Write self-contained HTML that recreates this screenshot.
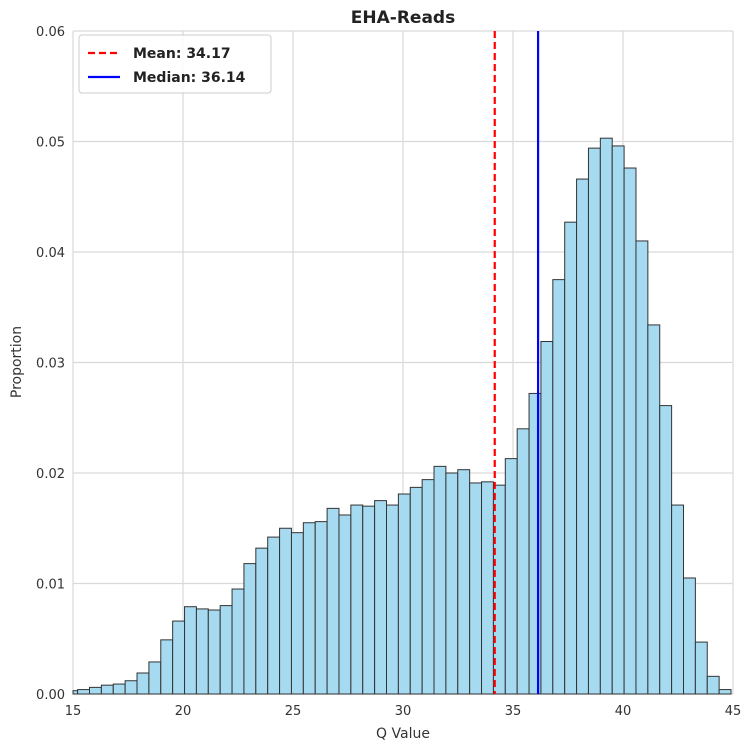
<!DOCTYPE html>
<html><head><meta charset="utf-8"><style>
body{margin:0;background:#fff;font-family:"Liberation Sans","DejaVu Sans",sans-serif;}
svg text{font-family:"DejaVu Sans","Liberation Sans",sans-serif;}
</style></head><body>
<svg id="chart" width="750" height="749" xmlns="http://www.w3.org/2000/svg">
<text x="403" y="23" text-anchor="middle" font-size="17" font-weight="bold" fill="#222">EHA-Reads</text>
<g id="grid"></g><g id="bars"></g><g id="lines"></g><g id="axes"></g>
<text x="403" y="738" text-anchor="middle" font-size="14" fill="#333">Q Value</text>
<text transform="translate(21,362) rotate(-90)" text-anchor="middle" font-size="14" fill="#333">Proportion</text>
<g>
<rect x="79" y="35" width="192" height="58" rx="3" fill="#fff" fill-opacity="0.85" stroke="#ccc"/>
<line x1="88" y1="53" x2="120" y2="53" stroke="#ff0000" stroke-width="2.2" stroke-dasharray="7,4"/>
<text x="133" y="58" font-size="14" font-weight="bold" fill="#222">Mean: 34.17</text>
<line x1="88" y1="77" x2="120" y2="77" stroke="#0000ff" stroke-width="2.2"/>
<text x="133" y="82" font-size="14" font-weight="bold" fill="#222">Median: 36.14</text>
</g>
</svg>
<script>
const binStart = 14.67;
const binWidth = 0.54;
const proportions = [0.0003,0.0004,0.0006,0.0008,0.0009,0.0012,0.0019,0.0029,0.0049,0.0066,0.0079,0.0077,0.0076,0.0080,0.0095,0.0118,0.0132,0.0142,0.0150,0.0146,0.0155,0.0156,0.0168,0.0162,0.0171,0.0170,0.0175,0.0171,0.0181,0.0187,0.0194,0.0206,0.0200,0.0203,0.0191,0.0192,0.0189,0.0213,0.0240,0.0272,0.0319,0.0375,0.0427,0.0466,0.0494,0.0503,0.0496,0.0476,0.0410,0.0334,0.0261,0.0171,0.0105,0.0047,0.0016,0.0004];
const xTicks = [15,20,25,30,35,40,45];
const yTicks = [0,0.01,0.02,0.03,0.04,0.05,0.06];
const yTickLabels = ["0.00","0.01","0.02","0.03","0.04","0.05","0.06"];
const meanVal = 34.17;
const medianVal = 36.14;
const L=73,R=733,T=31,B=694,xMin=15,xMax=45,yMax=0.06;
const sx=v=>L+(v-xMin)/(xMax-xMin)*(R-L);
const sy=v=>B-v/yMax*(B-T);
const NS='http://www.w3.org/2000/svg';
function mk(parent,tag,attrs){const e=document.createElementNS(NS,tag);for(const k in attrs)e.setAttribute(k,attrs[k]);document.getElementById(parent).appendChild(e);return e;}
xTicks.forEach(t=>{
  const g=mk('grid','line',{x1:sx(t),x2:sx(t),y1:T,y2:B,stroke:'#d9d9d9','stroke-width':1.2});
  
  
  const tx=mk('axes','text',{x:sx(t),y:B+21,'text-anchor':'middle','font-size':13,fill:'#333'});
  tx.textContent=t;
  
  
});
yTicks.forEach((t,i)=>{
  const g=mk('grid','line',{x1:L,x2:R,y1:sy(t),y2:sy(t),stroke:'#d9d9d9','stroke-width':1.2});
  
  
  const tx=mk('axes','text',{x:L-8,y:sy(t)+5,'text-anchor':'end','font-size':13,fill:'#333'});
  tx.textContent=yTickLabels[i];
  
  
});
proportions.forEach((p,i)=>{
  let x0=binStart+i*binWidth,x1=x0+binWidth;
  x0=Math.max(x0,xMin);x1=Math.min(x1,xMax);
  const r=mk('bars','rect',{x:sx(x0),y:sy(p),width:sx(x1)-sx(x0),height:B-sy(p),fill:'#a6daf0',stroke:'#333','stroke-width':1});
  
  
});
const m=mk('lines','line',{x1:sx(meanVal),x2:sx(meanVal),y1:T,y2:B,stroke:'#ff0000','stroke-width':2.2,'stroke-dasharray':'7,4'});


const md=mk('lines','line',{x1:sx(medianVal),x2:sx(medianVal),y1:T,y2:B,stroke:'#0000ff','stroke-width':2.2});


</script>
</body></html>
